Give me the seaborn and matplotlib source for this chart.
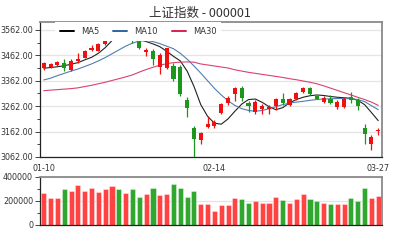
import numpy as np
import pandas as pd
import matplotlib
matplotlib.use("Agg")
import matplotlib.pyplot as plt
import seaborn as sns
from matplotlib.ticker import FixedLocator, FuncFormatter
from matplotlib.lines import Line2D

title = "上证指数 - 000001"
dates = ["01-10", "01-11", "01-12", "01-15", "01-16", "01-17", "01-18", "01-19",
         "01-22", "01-23", "01-24", "01-25", "01-26", "01-29", "01-30", "01-31",
         "02-01", "02-02", "02-05", "02-06", "02-07", "02-08", "02-09", "02-12",
         "02-13", "02-14", "02-22", "02-23", "02-26", "02-27", "02-28",
         "03-01", "03-02", "03-05", "03-06", "03-07", "03-08", "03-09", "03-12",
         "03-13", "03-14", "03-15", "03-16", "03-19", "03-20", "03-21", "03-22",
         "03-23", "03-26", "03-27"]
tick_dates = ["01-10", "02-14", "03-27"]

opens = [3413, 3415, 3424, 3433, 3404, 3438, 3453, 3483, 3480, 3507,
         3546, 3561, 3545, 3563, 3518, 3474, 3480, 3417, 3411, 3421,
         3417, 3286, 3178, 3128, 3180, 3184, 3237, 3275, 3310, 3333,
         3273, 3240, 3249, 3252, 3262, 3292, 3266, 3292, 3319, 3332,
         3301, 3279, 3292, 3257, 3257, 3299, 3288, 3176, 3114, 3166]
highs = [3437, 3433, 3441, 3446, 3446, 3470, 3483, 3503, 3509, 3547,
         3566, 3564, 3562, 3587, 3524, 3490, 3486, 3470, 3492, 3430,
         3425, 3299, 3183, 3161, 3222, 3206, 3275, 3302, 3338, 3340,
         3282, 3288, 3270, 3266, 3296, 3312, 3296, 3319, 3338, 3338,
         3306, 3302, 3306, 3286, 3299, 3319, 3296, 3190, 3148, 3178]
lows = [3404, 3411, 3421, 3402, 3400, 3433, 3450, 3477, 3477, 3503,
        3538, 3533, 3530, 3510, 3485, 3459, 3424, 3388, 3407, 3360,
        3303, 3220, 3063, 3115, 3176, 3175, 3233, 3266, 3282, 3282,
        3240, 3233, 3233, 3233, 3246, 3266, 3262, 3286, 3315, 3306,
        3289, 3275, 3269, 3249, 3253, 3273, 3246, 3113, 3090, 3148]
closes = [3430, 3428, 3437, 3413, 3441, 3449, 3480, 3492, 3505, 3546,
          3559, 3548, 3558, 3523, 3489, 3483, 3446, 3463, 3490, 3368,
          3310, 3253, 3132, 3157, 3192, 3199, 3272, 3295, 3333, 3296,
          3262, 3279, 3262, 3258, 3292, 3273, 3292, 3312, 3332, 3310,
          3292, 3296, 3273, 3279, 3292, 3286, 3262, 3154, 3140, 3170]
volumes = [270000, 227000, 227000, 304000, 281000, 332000, 281000, 309000, 275000, 298000,
           323000, 304000, 270000, 304000, 236000, 255000, 309000, 250000, 262000, 338000,
           309000, 236000, 281000, 179000, 179000, 119000, 168000, 168000, 227000, 213000,
           187000, 196000, 187000, 187000, 236000, 207000, 187000, 213000, 261000, 213000,
           196000, 187000, 179000, 179000, 176000, 221000, 196000, 309000, 227000, 241000]
ma5 = [3411, 3414, 3417, 3421, 3427, 3433, 3444, 3454, 3470, 3492,
       3520, 3535, 3545, 3535, 3525, 3516, 3507, 3496, 3478, 3458,
       3440, 3400, 3340, 3268, 3222, 3195, 3191, 3212, 3242, 3270,
       3288, 3290, 3277, 3260, 3248, 3256, 3275, 3288, 3297, 3303,
       3306, 3304, 3300, 3297, 3295, 3293, 3285, 3268, 3237, 3205]
ma10 = [3365, 3372, 3382, 3391, 3400, 3408, 3418, 3428, 3440, 3453,
        3468, 3483, 3498, 3510, 3518, 3520, 3516, 3508, 3498, 3488,
        3470, 3447, 3420, 3392, 3362, 3332, 3306, 3283, 3265, 3252,
        3245, 3242, 3245, 3252, 3260, 3268, 3274, 3278, 3281, 3285,
        3288, 3290, 3291, 3292, 3292, 3291, 3288, 3280, 3264, 3248]
ma30 = [3323, 3325, 3327, 3329, 3331, 3334, 3339, 3344, 3350, 3356,
        3363, 3370, 3377, 3385, 3396, 3406, 3415, 3423, 3429, 3433,
        3435, 3436, 3435, 3428, 3424, 3420, 3416, 3412, 3405, 3400,
        3395, 3391, 3387, 3383, 3379, 3375, 3370, 3366, 3361, 3356,
        3350, 3342, 3333, 3324, 3315, 3306, 3297, 3288, 3278, 3265]

sns.set_style("white")
plt.rcParams["font.family"] = ["DejaVu Sans", "Noto Sans CJK SC"]

fig = plt.figure(figsize=(4, 2.4), dpi=100)
ax = fig.add_axes([40 / 400, 1 - 157 / 240, 342 / 400, 135 / 240])
axv = fig.add_axes([40 / 400, 1 - 225 / 240, 342 / 400, 48 / 240])

x = np.arange(len(dates))
o = np.array(opens, float)
c = np.array(closes, float)
up = c >= o
RED = "#ee1111"
GREEN = "#1c961c"
ccol = [RED if u else GREEN for u in up]

# MA lines
df = pd.DataFrame({"x": x, "MA5": ma5, "MA10": ma10, "MA30": ma30})
line_cols = {"MA5": "#222222", "MA10": "#4f7fb0", "MA30": "#d8436c"}
for name, col in line_cols.items():
    sns.lineplot(data=df, x="x", y=name, ax=ax, color=col, lw=0.8, zorder=2)

# candlesticks
ax.vlines(x, lows, highs, colors=ccol, lw=0.9, zorder=3)
ax.bar(x, np.maximum(np.abs(c - o), 1.0), bottom=np.minimum(o, c), width=0.6,
       color=ccol, linewidth=0, zorder=4)

ax.set_xlim(-0.55, 49.55)
ax.set_ylim(3062, 3593)
ax.set_xlabel("")
ax.set_ylabel("")
ax.yaxis.set_major_locator(FixedLocator([3062 + 100 * k for k in range(6)]))
ax.yaxis.set_minor_locator(FixedLocator([3112 + 100 * k for k in range(5)]))
ax.yaxis.set_major_formatter(FuncFormatter(lambda v, p: f"{v:.2f}"))
ax.set_xticks([dates.index(d) for d in tick_dates])
ax.set_xticklabels(tick_dates)
ax.tick_params(axis="x", length=0, pad=5, labelsize=5.8, labelcolor="#333333")
ax.tick_params(axis="y", which="major", direction="out", length=3.5, width=0.6,
               labelsize=5.8, labelcolor="#333333", pad=1.5, left=True)
ax.tick_params(axis="y", which="minor", direction="out", length=2.5, width=0.6, left=True)
ax.grid(axis="y", which="major", color="#e4e4e4", lw=0.9)
ax.grid(axis="x", visible=False)
ax.set_axisbelow(True)

handles = [Line2D([], [], color="#000000", lw=1.4),
           Line2D([], [], color="#2f62a0", lw=1.4),
           Line2D([], [], color="#dc1f4c", lw=1.4)]
leg = ax.legend(handles, ["MA5", "MA10", "MA30"], loc="upper left",
                bbox_to_anchor=(0.044, 1.0), ncol=3, frameon=True, facecolor="white",
                edgecolor="none", framealpha=1, fontsize=6, handlelength=1.7,
                handletextpad=0.8, columnspacing=1.7, borderpad=0.6,
                borderaxespad=0, fancybox=False)
for t in leg.get_texts():
    t.set_color("#333333")

# volume bars
vdf = pd.DataFrame({"d": dates, "v": volumes, "dir": np.where(up, "up", "down")})
sns.barplot(data=vdf, x="d", y="v", hue="dir", order=dates,
            palette={"up": "#ff4242", "down": "#30a830"}, dodge=False, width=0.74,
            saturation=1, ax=axv, legend=False, linewidth=0.5,
            edgecolor="#ffffff80")
axv.set_xlim(-0.55, 49.55)
axv.set_ylim(0, 400000)
axv.set_xlabel("")
axv.set_ylabel("")
axv.set_xticks([])
axv.yaxis.set_major_locator(FixedLocator([0, 200000, 400000]))
axv.yaxis.set_minor_locator(FixedLocator([100000, 300000]))
axv.yaxis.set_major_formatter(FuncFormatter(lambda v, p: f"{int(v)}"))
axv.tick_params(axis="y", which="major", direction="out", length=3.5, width=0.6,
                labelsize=5.8, labelcolor="#333333", pad=1.5, left=True)
axv.tick_params(axis="y", which="minor", direction="out", length=2.5, width=0.6, left=True)
axv.grid(axis="y", which="major", color="#e4e4e4", lw=0.9)
axv.grid(axis="x", visible=False)
axv.set_axisbelow(True)

for a in (ax, axv):
    for s in ("left", "bottom"):
        a.spines[s].set_color("#222222")
        a.spines[s].set_linewidth(0.9)
    for s in ("top", "right"):
        a.spines[s].set_color("#8a8a8a")
        a.spines[s].set_linewidth(1.3)
        a.spines[s].set_visible(True)

fig.text(0.5, 1 - 13 / 240, title, ha="center", va="center", fontsize=9,
         family=["Noto Sans CJK SC", "DejaVu Sans"], color="#333333")

fig.savefig("out.png", dpi=100)
